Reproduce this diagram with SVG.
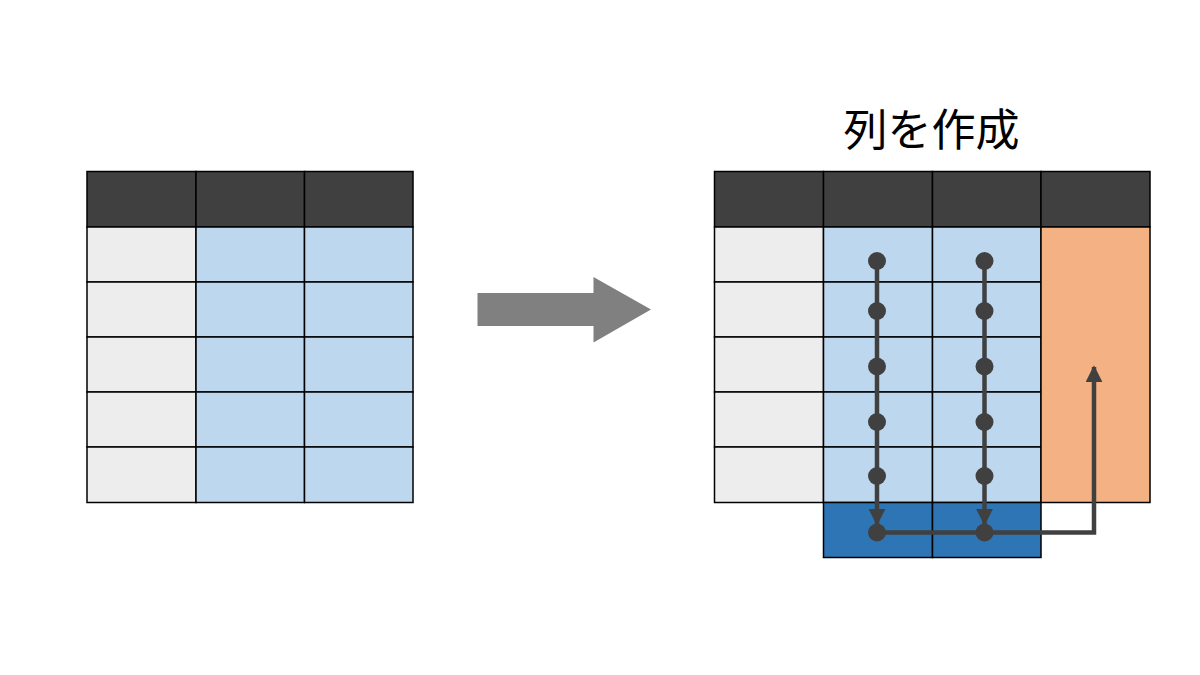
<svg xmlns="http://www.w3.org/2000/svg" width="1200" height="675" viewBox="0 0 1200 675">
<style>
.cell{stroke:#000;stroke-width:1.5}
.hd{fill:#404040}
.gr{fill:#EDEDED}
.lb{fill:#BDD7EE}
.db{fill:#2E75B6}
.or{fill:#F4B183}
.flow{fill:none;stroke:#404040;stroke-width:4.5}
.dot{fill:#404040}
.title{font-family:"Noto Sans CJK JP","Noto Sans",sans-serif;font-size:44px;fill:#000}
</style>
<defs>
<marker id="ah" viewBox="0 0 10 10" refX="9" refY="5" markerWidth="17" markerHeight="17" markerUnits="userSpaceOnUse" orient="auto">
<path d="M0,0 L10,5 L0,10 Z" fill="#404040"/>
</marker>
</defs>
<rect width="1200" height="675" fill="#fff"/>

<g id="left-table">
<rect class="cell hd" x="87" y="171.5" width="109" height="55.5"/>
<rect class="cell hd" x="196" y="171.5" width="108.5" height="55.5"/>
<rect class="cell hd" x="304.5" y="171.5" width="108.5" height="55.5"/>
<rect class="cell gr" x="87" y="227" width="109" height="55"/>
<rect class="cell gr" x="87" y="282" width="109" height="55"/>
<rect class="cell gr" x="87" y="337" width="109" height="55"/>
<rect class="cell gr" x="87" y="392" width="109" height="55"/>
<rect class="cell gr" x="87" y="447" width="109" height="55.5"/>
<rect class="cell lb" x="196" y="227" width="108.5" height="55"/>
<rect class="cell lb" x="196" y="282" width="108.5" height="55"/>
<rect class="cell lb" x="196" y="337" width="108.5" height="55"/>
<rect class="cell lb" x="196" y="392" width="108.5" height="55"/>
<rect class="cell lb" x="196" y="447" width="108.5" height="55.5"/>
<rect class="cell lb" x="304.5" y="227" width="108.5" height="55"/>
<rect class="cell lb" x="304.5" y="282" width="108.5" height="55"/>
<rect class="cell lb" x="304.5" y="337" width="108.5" height="55"/>
<rect class="cell lb" x="304.5" y="392" width="108.5" height="55"/>
<rect class="cell lb" x="304.5" y="447" width="108.5" height="55.5"/>
</g>

<g id="big-arrow">
<polygon points="477.5,293 593.5,293 593.5,277 651,309.5 593.5,342.5 593.5,326 477.5,326" fill="#808080"/>
</g>

<g id="title">
<text class="title" x="931.5" y="146" text-anchor="middle">列を作成</text>
</g>

<g id="right-table">
<rect class="cell hd" x="714.5" y="171.5" width="109" height="55.5"/>
<rect class="cell hd" x="823.5" y="171.5" width="109" height="55.5"/>
<rect class="cell hd" x="932.5" y="171.5" width="108.5" height="55.5"/>
<rect class="cell hd" x="1041" y="171.5" width="109" height="55.5"/>
<rect class="cell gr" x="714.5" y="227" width="109" height="55"/>
<rect class="cell gr" x="714.5" y="282" width="109" height="55"/>
<rect class="cell gr" x="714.5" y="337" width="109" height="55"/>
<rect class="cell gr" x="714.5" y="392" width="109" height="55"/>
<rect class="cell gr" x="714.5" y="447" width="109" height="55.5"/>
<rect class="cell lb" x="823.5" y="227" width="109" height="55"/>
<rect class="cell lb" x="823.5" y="282" width="109" height="55"/>
<rect class="cell lb" x="823.5" y="337" width="109" height="55"/>
<rect class="cell lb" x="823.5" y="392" width="109" height="55"/>
<rect class="cell lb" x="823.5" y="447" width="109" height="55.5"/>
<rect class="cell lb" x="932.5" y="227" width="108.5" height="55"/>
<rect class="cell lb" x="932.5" y="282" width="108.5" height="55"/>
<rect class="cell lb" x="932.5" y="337" width="108.5" height="55"/>
<rect class="cell lb" x="932.5" y="392" width="108.5" height="55"/>
<rect class="cell lb" x="932.5" y="447" width="108.5" height="55.5"/>
<rect class="cell or" x="1041" y="227" width="109" height="275.5"/>
<rect class="cell db" x="823.5" y="502.5" width="109" height="55"/>
<rect class="cell db" x="932.5" y="502.5" width="108.5" height="55"/>
</g>

<g id="connectors">
<line class="flow" x1="877" y1="261" x2="877" y2="524" marker-end="url(#ah)"/>
<line class="flow" x1="984.5" y1="261" x2="984.5" y2="524" marker-end="url(#ah)"/>
<polyline class="flow" points="877,532.5 1094,532.5 1094,367" marker-end="url(#ah)"/>
<g class="dot">
<circle cx="877" cy="261" r="9"/>
<circle cx="877" cy="311" r="9"/>
<circle cx="877" cy="366.5" r="9"/>
<circle cx="877" cy="422" r="9"/>
<circle cx="877" cy="476" r="9"/>
<circle cx="877" cy="532.5" r="9"/>
<circle cx="984.5" cy="261" r="9"/>
<circle cx="984.5" cy="311" r="9"/>
<circle cx="984.5" cy="366.5" r="9"/>
<circle cx="984.5" cy="422" r="9"/>
<circle cx="984.5" cy="476" r="9"/>
<circle cx="984.5" cy="532.5" r="9"/>
</g>
</g>
</svg>
